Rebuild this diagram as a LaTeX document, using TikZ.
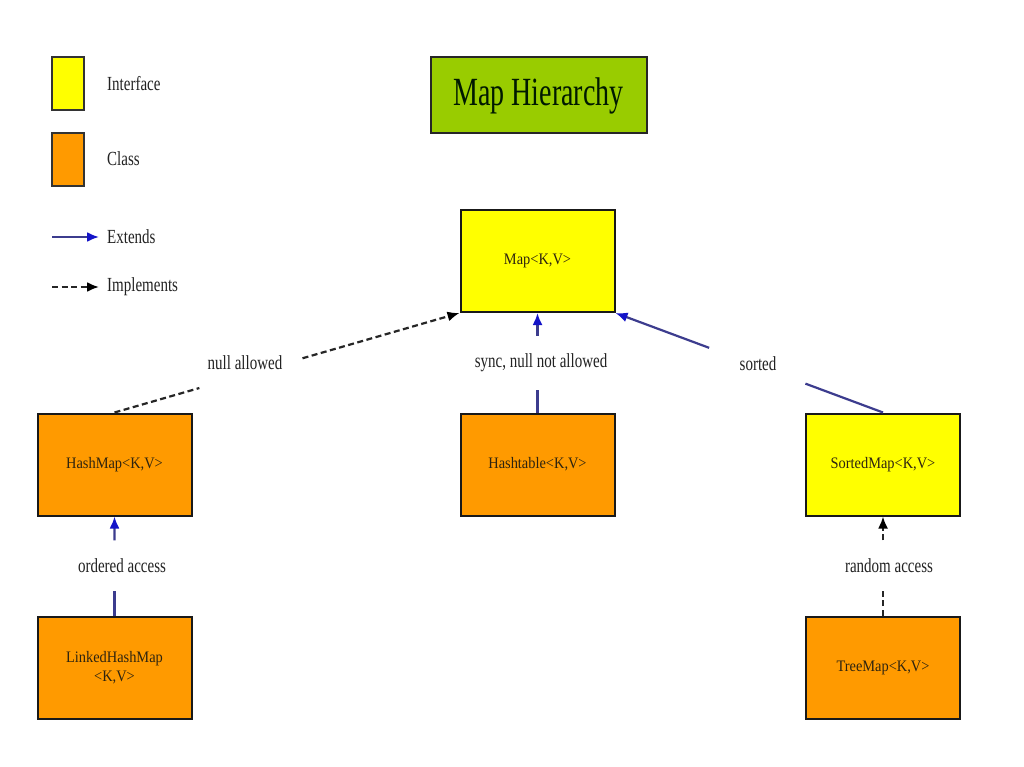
\documentclass[tikz,border=0pt]{standalone}
\usepackage{fontspec}
\setmainfont{Liberation Serif}
\newfontfamily\titlefont[FakeStretch=0.70]{Liberation Serif}
\newfontfamily\lblfont[FakeStretch=0.75]{Liberation Serif}
\newfontfamily\boxfont[FakeStretch=0.90]{Liberation Serif}
\usetikzlibrary{arrows.meta,calc}
\definecolor{ifyellow}{HTML}{FFFF00}
\definecolor{clorange}{HTML}{FF9A00}
\definecolor{titlegreen}{HTML}{99CC00}
\definecolor{extline}{HTML}{3C3C8E}
\definecolor{exttip}{HTML}{1414C8}
\definecolor{boxtext}{HTML}{2E2410}
\definecolor{lbltext}{HTML}{222222}
\tikzset{
  typebox/.style={draw=black!90, line width=2pt, minimum width=154pt, minimum height=102pt,
    inner sep=0pt, align=center, text=boxtext, font=\boxfont\fontsize{16}{19}\selectfont},
  ifbox/.style={typebox, fill=ifyellow},
  clbox/.style={typebox, fill=clorange},
  extline/.style={draw=extline, line width=2.2pt},
  exttipped/.style={extline, -{Latex[length=12pt,width=10pt,color=exttip]}},
  implline/.style={draw=black!85, line width=2.2pt, dash pattern=on 6pt off 3.5pt},
  impltipped/.style={implline, -{Latex[length=12pt,width=10pt,color=black]}},
  lbl/.style={text=lbltext, inner sep=1pt, font=\lblfont\fontsize{20}{22}\selectfont},
  legbox/.style={draw=black!80, line width=2pt, minimum width=32pt, minimum height=53pt, inner sep=0pt}
}
\begin{document}
\begin{tikzpicture}[x=1pt,y=-1pt]
\useasboundingbox[fill=white] (0,0) rectangle (1024,767);

% legend
\node[legbox, fill=ifyellow] (legif) at (68,83.5) {};
\node[lbl, anchor=west] (legiftxt) at (106,84) {Interface};
\node[legbox, fill=clorange] (legcl) at (68,159.5) {};
\node[lbl, anchor=west] (legcltxt) at (106,159) {Class};
\coordinate (legextA) at (52,237);
\node[lbl, anchor=west] (legexttxt) at (106,237) {Extends};
\draw[exttipped, shorten >=7pt] (legextA) -- (legexttxt.west);
\coordinate (legimpA) at (52,287);
\node[lbl, anchor=west] (legimptxt) at (106,287) {Implements};
\draw[impltipped, shorten >=7pt] (legimpA) -- (legimptxt.west);

% title
\node[draw=black!85, line width=2pt, fill=titlegreen, minimum width=216pt, minimum height=76pt,
  font=\titlefont\fontsize{40}{44}\selectfont, text=black!90!green] (title) at (538.5,95.5) {Map Hierarchy};

% type nodes
\node[ifbox] (map) at (537.5,261) {Map<K,V>};
\node[clbox] (hashmap) at (114.5,464.5) {HashMap<K,V>};
\node[clbox] (hashtable) at (537.5,464.5) {Hashtable<K,V>};
\node[ifbox] (sortedmap) at (883,464.5) {SortedMap<K,V>};
\node[clbox] (linked) at (114.5,667.5) {LinkedHashMap\\<K,V>};
\node[clbox] (treemap) at (883,667.5) {TreeMap<K,V>};

% HashMap implements Map
\draw[implline] (hashmap.north) -- ($(hashmap.north)!0.246!(map.south west)$);
\draw[impltipped] ($(hashmap.north)!0.545!(map.south west)$) -- (map.south west);
\node[lbl] (lnull) at (245,363) {null allowed};

% Hashtable extends Map
\draw[extline] (hashtable.north) -- ($(hashtable.north)!0.228!(map.south)$);
\draw[exttipped] ($(hashtable.north)!0.772!(map.south)$) -- (map.south);
\node[lbl] (lsync) at (541,363) {sync, null not allowed};

% SortedMap extends Map
\draw[extline] (sortedmap.north) -- ($(sortedmap.north)!0.29!(map.south east)$);
\draw[exttipped] ($(sortedmap.north)!0.65!(map.south east)$) -- (map.south east);
\node[lbl] (lsorted) at (758,364) {sorted};

% LinkedHashMap extends HashMap
\draw[extline] (linked.north) -- ($(linked.north)!0.25!(hashmap.south)$);
\draw[exttipped] ($(linked.north)!0.76!(hashmap.south)$) -- (hashmap.south);
\node[lbl] (lordered) at (122,566) {ordered access};

% TreeMap implements SortedMap
\draw[implline] (treemap.north) -- ($(treemap.north)!0.25!(sortedmap.south)$);
\draw[impltipped] ($(treemap.north)!0.76!(sortedmap.south)$) -- (sortedmap.south);
\node[lbl] (lrandom) at (889,566) {random access};
\end{tikzpicture}
\end{document}
